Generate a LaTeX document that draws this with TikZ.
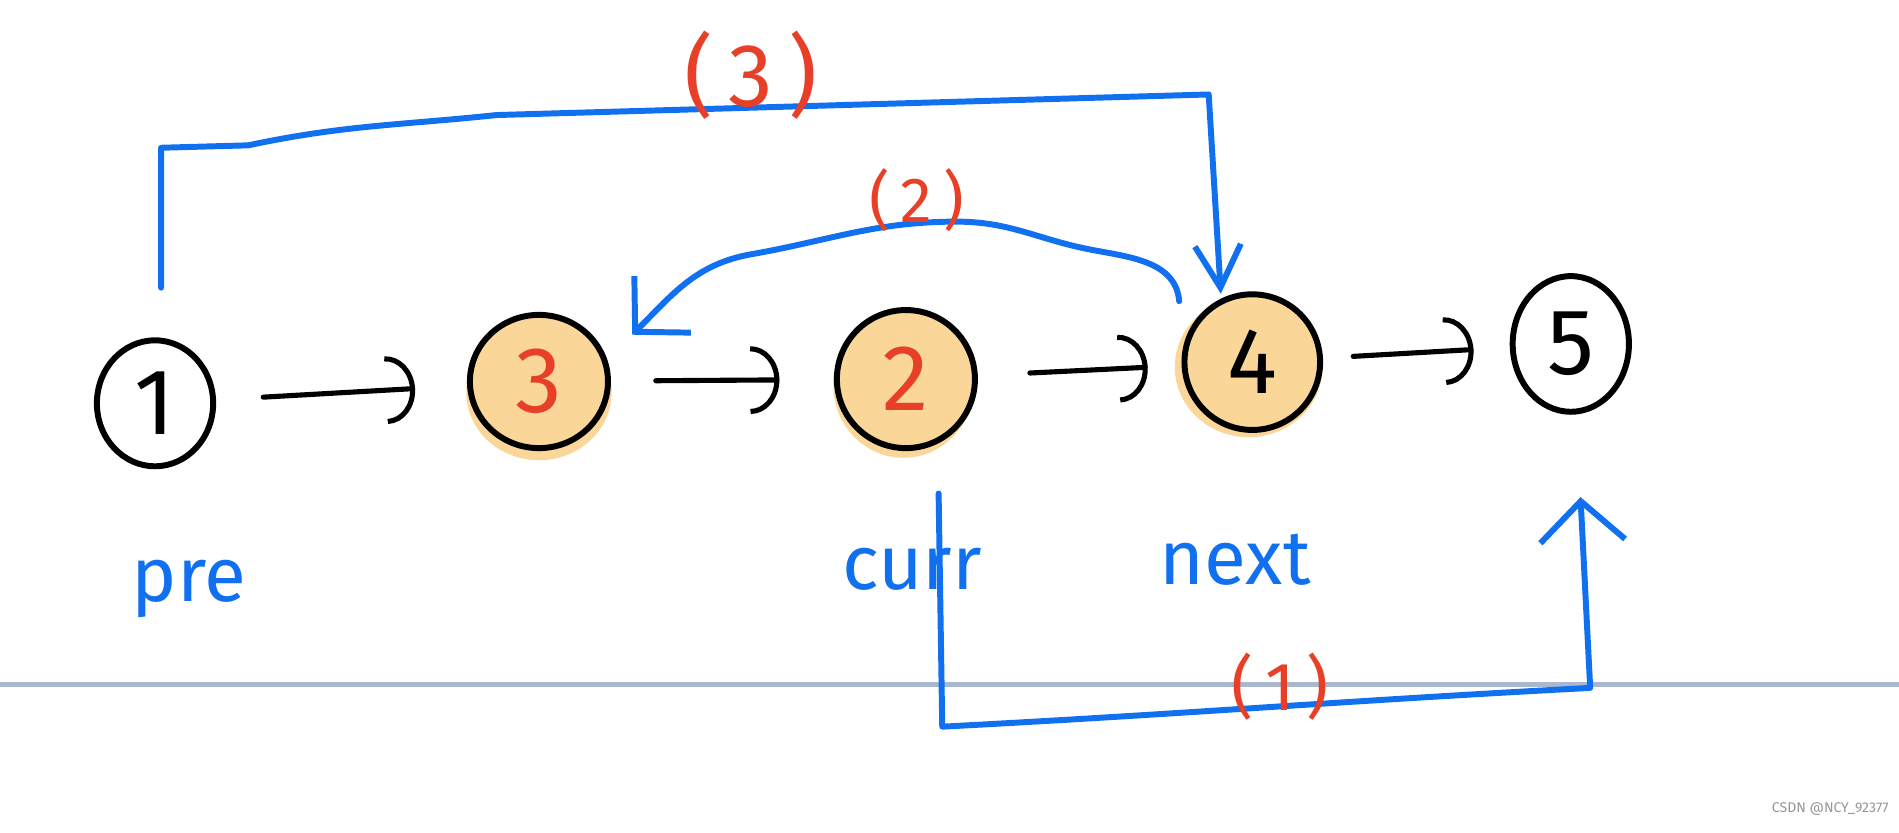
\documentclass[tikz,border=0pt]{standalone}
\usepackage{fontspec}
\setmainfont{Fira Sans}
\usetikzlibrary{shapes.geometric,arrows.meta}
\definecolor{hblue}{RGB}{16,112,240}
\definecolor{hred}{RGB}{232,64,40}
\definecolor{horange}{RGB}{250,214,152}
\definecolor{hgray}{RGB}{169,184,207}
\definecolor{wmgray}{RGB}{150,150,150}
\begin{document}
\begin{tikzpicture}[
  circ/.style={draw=black, line width=1.4pt, ellipse, inner sep=0pt, font=\fontsize{22}{24}\selectfont},
  hot/.style={fill=horange},
  link/.style={line width=1.2pt, line cap=round, -{Arc Barb[length=0.24cm,width=0.56cm]}},
  bline/.style={draw=hblue, line width=1.4pt, line cap=round, line join=round},
  ptr/.style={text=hblue, font=\fontsize{18}{20}\selectfont, anchor=base, inner sep=0pt},
  lbl/.style={text=hred, inner sep=0pt},
]
\useasboundingbox (0,0) rectangle (15.68,-6.87);

% gray ruled line
\draw[hgray, line width=1.3pt] (0,-5.65) -- (15.68,-5.65);

% orange halos
\fill[horange] (4.45,-3.24) ellipse (0.60 and 0.56);
\fill[horange] (7.46,-3.18) ellipse (0.58 and 0.60);
\fill[horange] (10.31,-3.03) ellipse (0.61 and 0.58);

% nodes
\node[circ, minimum width=0.96cm, minimum height=1.04cm] (n1) at (1.28,-3.33) {1};
\node[circ, hot, text=hred, minimum width=1.14cm, minimum height=1.10cm] (n3) at (4.45,-3.15) {3};
\node[circ, hot, text=hred, minimum width=1.14cm, minimum height=1.14cm] (n2) at (7.48,-3.13) {2};
\node[circ, hot, minimum width=1.12cm, minimum height=1.12cm] (n4) at (10.34,-2.99) {4};
\node[circ, minimum width=0.96cm, minimum height=1.12cm] (n5) at (12.97,-2.84) {5};

% black links
\draw[link, shorten <=0.39cm, shorten >=0.43cm] (n1) -- (n3);
\draw[link, shorten <=0.37cm, shorten >=0.45cm] (n3) -- (n2);
\draw[link, shorten <=0.43cm, shorten >=0.28cm] (n2) -- (n4);
\draw[link, shorten <=0.25cm, shorten >=0.30cm] (n4) -- (n5);

% pointer names
\node[ptr] (pre) at (1.56,-4.97) {pre};
\node[ptr] (curr) at (7.53,-4.87) {curr};
\node[ptr] (next) at (10.20,-4.83) {next};

% waypoints
\coordinate (c3a) at (1.33,-1.22);
\coordinate (c3b) at (2.05,-1.20);
\coordinate (c3c) at (4.10,-0.95);
\coordinate (c3d) at (9.98,-0.78);
\coordinate (c2a) at (9.00,-2.06);
\coordinate (c2b) at (7.90,-1.83);
\coordinate (c2c) at (6.20,-2.10);
\coordinate (c1a) at (7.78,-6.00);
\coordinate (c1b) at (13.13,-5.68);

% (3)
\draw[bline, -{Straight Barb[length=0.35cm,width=0.38cm]}]
  ([shift={(0.05,0.41)}]n1.north) -- (c3a) -- (c3b) to[out=12,in=186] (c3c) -- (c3d)
  -- ([shift={(-0.26,-0.02)}]n4.north);
% (2)
\draw[bline, -{Straight Barb[length=0.32cm,width=0.66cm]}]
  ([shift={(-0.19,0.09)}]n4.north west) to[out=95,in=-11] (c2a) to[out=169,in=0] (c2b)
  to[out=180,in=10] (c2c) to[out=190,in=45] ([shift={(0.35,-0.02)}]n3.north east);
% (1)
\draw[bline, -{Straight Barb[length=0.33cm,width=0.7cm]}]
  ([shift={(0.27,-0.35)}]n2.south) -- (c1a) to[out=3,in=183] (c1b)
  -- ([shift={(0.08,-0.68)}]n5.south);

% step labels
\node[lbl, font=\fontsize{21}{24}\selectfont] (L3) at (6.20,-0.62) {(\,3\,)};
\node[lbl, font=\fontsize{15}{18}\selectfont] (L2) at (7.57,-1.65) {(\,2\,)};
\node[lbl, font=\fontsize{16}{18}\selectfont] (L1) at (10.57,-5.67) {(\,1\,)};

% watermark
\node[text=wmgray, font=\fontsize{3.3}{4}\selectfont, anchor=east, inner sep=0pt] (wm) at (15.60,-6.68) {CSDN @NCY\_92377};
\end{tikzpicture}
\end{document}
